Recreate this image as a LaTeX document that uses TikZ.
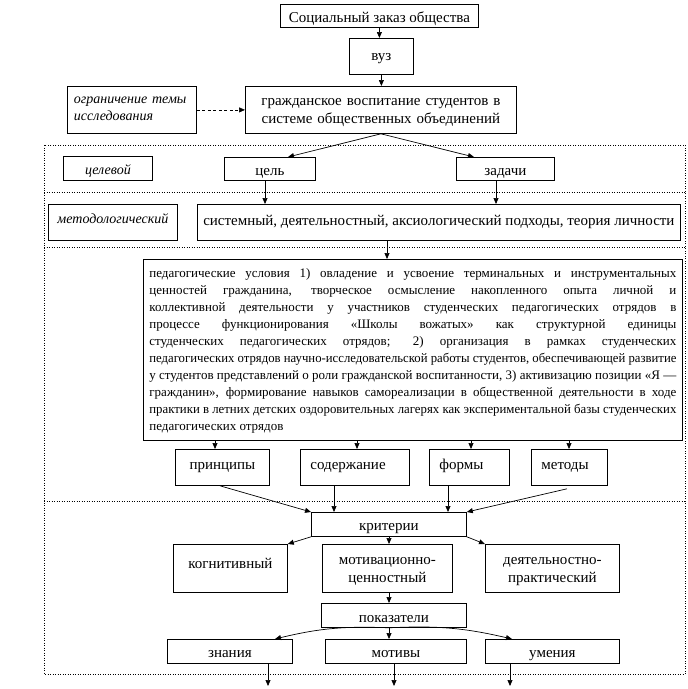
\documentclass[tikz,border=0pt]{standalone}
\usepackage{fontspec}
\usepackage{graphicx}
\setmainfont{Liberation Serif}
\usetikzlibrary{arrows.meta}
\begin{document}
\begin{tikzpicture}[x=1pt,y=-1pt,
 bx/.style={draw, line width=0.8pt, inner sep=0pt, anchor=north west, font=\fontsize{15}{18.4}\selectfont, align=center},
 sz/.style n args={2}{minimum width=#1pt, minimum height=#2pt},
 th/.style={text height=#1pt, text depth=0pt},
 td/.style={text height=0pt, text depth=#1pt},
 it/.style={font=\fontsize{14}{17}\selectfont\itshape},
 arr/.style={-{Triangle[length=6pt,width=5pt]}, line width=0.7pt},
 dots/.style={line width=0.8pt, dash pattern=on 1pt off 1.5pt}]
\useasboundingbox (0,0) rectangle (688,689);
% dotted frame and separators
\draw[dots] (44,145) rectangle (685,674);
\draw[dots] (44,192) -- (685,192);
\draw[dots] (44,247) -- (685,247);
\draw[dots] (44,501) -- (685,501);
% boxes
\node[bx, sz={198}{23}, th=13.8] (soc) at (280,4) {Социальный заказ общества};
\node[bx, sz={64}{36}, th=8] (vuz) at (349,38) {вуз};
\node[bx, sz={271}{47}, text width=265pt, td=9] (grazh) at (245,86) {гражданское воспитание студентов в\\системе общественных объединений};
\node[bx, sz={129}{47}, it, align=left, text width=116pt, td=12] (ogr) at (67,86) {ограничение темы\\исследования};
\node[bx, sz={89}{24}, it, th=12] (tsl) at (63,156) {целевой};
\node[bx, sz={91}{23}, th=13] (tsel) at (224,157) {цель};
\node[bx, sz={98}{23}, th=13] (zad) at (456,157) {задачи};
\node[bx, sz={129}{36}, it, th=2.6] (met) at (48,204) {методологический};
\node[bx, sz={483}{36}, th=6] (sist) at (197,204) {системный, деятельностный, аксиологический подходы, теория личности};
\node[bx, sz={539}{181}, inner xsep=6pt, text width=527pt, align=justify, td=145, font=\fontsize{13}{17}\selectfont] (big) at (143,259) {\hyphenpenalty=10000\exhyphenpenalty=10000
педагогические условия 1) овладение и усвоение терминальных и инструментальных\linebreak
ценностей гражданина, творческое осмысление накопленного опыта личной и\linebreak
коллективной деятельности у участников студенческих педагогических отрядов в\linebreak
процессе функционирования «Школы вожатых» как структурной единицы\linebreak
студенческих педагогических отрядов; 2) организация в рамках студенческих\linebreak
\resizebox{\linewidth}{\height}{педагогических отрядов научно-исследовательской работы студентов, обеспечивающей развитие}\linebreak
у студентов представлений о роли гражданской воспитанности, 3) активизацию позиции «Я —\linebreak
гражданин», формирование навыков самореализации в общественной деятельности в ходе\linebreak
\resizebox{\linewidth}{\height}{практики в летних детских оздоровительных лагерях как экспериментальной базы студенческих}\linebreak
педагогических отрядов};
\node[bx, sz={94}{36}, th=4] (princ) at (175,449) {принципы};
\node[bx, sz={109}{36}, align=left, text width=89pt, th=4] (soder) at (300,449) {содержание};
\node[bx, sz={80}{36}, align=left, text width=60pt, th=4] (formy) at (429,449) {формы};
\node[bx, sz={76}{36}, align=left, text width=56pt, th=4] (metody) at (531,449) {методы};
\node[bx, sz={155}{24}, th=12] (krit) at (311,512) {критерии};
\node[bx, sz={114}{48}, th=-6] (kogn) at (173,544) {когнитивный};
\node[bx, sz={130}{48}, text width=126pt, td=8] (motiv) at (322,544) {мотивационно-\\ценностный};
\node[bx, sz={134}{48}, text width=130pt, td=8] (deyat) at (485,544) {деятельностно-\\практический};
\node[bx, sz={145}{24}, th=13.4] (pokaz) at (321,603) {показатели};
\node[bx, sz={125}{24}, th=12] (znan) at (167,639) {знания};
\node[bx, sz={141}{24}, th=12] (motivy) at (325,639) {мотивы};
\node[bx, sz={134}{24}, th=12] (umen) at (485,639) {умения};
\coordinate (e1) at (268,686);
\coordinate (e2) at (394,686);
\coordinate (e3) at (510,686);
% connectors
\draw[arr] (soc.south) -- (soc.south |- vuz.north);
\draw[arr] (vuz.south) -- (vuz.south |- grazh.north);
\draw[arr, dash pattern=on 3pt off 2.5pt] (ogr.east) -- (grazh.west);
\draw[arr] (grazh.south) -- ([xshift=64pt]tsel.north west);
\draw[arr] (grazh.south) -- ([xshift=18pt]zad.north west);
\draw[arr] ([xshift=41pt]tsel.south west) -- ([xshift=41pt]tsel.south west |- sist.north);
\draw[arr] ([xshift=40pt]zad.south west) -- ([xshift=40pt]zad.south west |- sist.north);
\draw[arr] ([xshift=190pt]sist.south west) -- ([xshift=190pt]sist.south west |- big.north);
\draw[arr] ([xshift=40pt]princ.north west |- big.south) -- ([xshift=40pt]princ.north west);
\draw[arr] ([xshift=57pt]soder.north west |- big.south) -- ([xshift=57pt]soder.north west);
\draw[arr] ([xshift=42pt]formy.north west |- big.south) -- ([xshift=42pt]formy.north west);
\draw[arr] ([xshift=38pt]metody.north west |- big.south) -- ([xshift=38pt]metody.north west);
\draw[arr] ([xshift=45pt]princ.south west) -- (krit.north west);
\draw[arr] ([xshift=34pt]soder.south west) -- ([xshift=34pt]soder.south west |- krit.north);
\draw[arr] ([xshift=19pt]formy.south west) -- ([xshift=19pt]formy.south west |- krit.north);
\draw[arr] ([xshift=36pt,yshift=-3pt]metody.south west) -- (krit.north east);
\draw[arr] (krit.south west) -- (kogn.north east);
\draw[arr] ([xshift=78pt]krit.south west) -- ([xshift=78pt]krit.south west |- motiv.north);
\draw[arr] (krit.south east) -- (deyat.north west);
\draw[arr] ([xshift=67pt]motiv.south west) -- ([xshift=67pt]motiv.south west |- pokaz.north);
\draw[arr] ([xshift=68pt]pokaz.south west) to[bend right=8] ([xshift=108pt]znan.north west);
\draw[arr] ([xshift=68pt]pokaz.south west) -- ([xshift=68pt]pokaz.south west |- motivy.north);
\draw[arr] ([xshift=68pt]pokaz.south west) to[bend left=8] ([xshift=27pt]umen.north west);
\draw[arr] ([xshift=101pt]znan.south west) -- (e1);
\draw[arr] ([xshift=69pt]motivy.south west) -- (e2);
\draw[arr] ([xshift=25pt]umen.south west) -- (e3);
\end{tikzpicture}
\end{document}
